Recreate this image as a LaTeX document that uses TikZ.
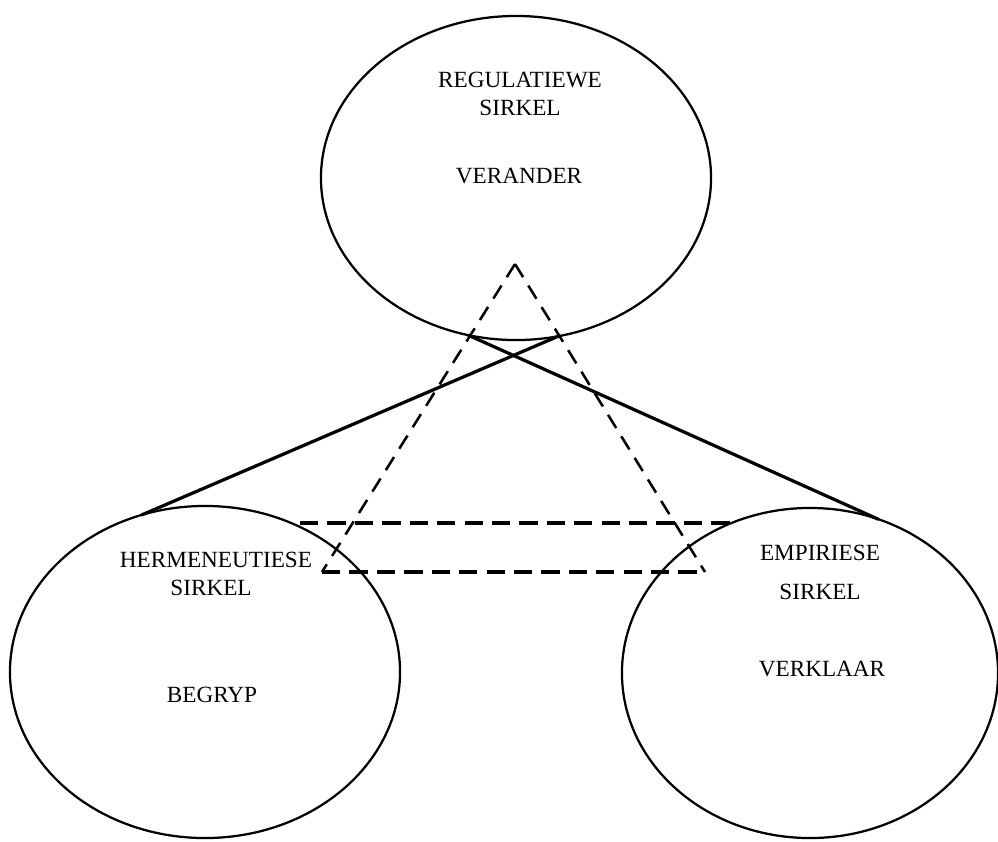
\documentclass[tikz,border=0pt]{standalone}
\usepackage{fontspec}
\setmainfont{Liberation Serif}
\usetikzlibrary{shapes.geometric}
\begin{document}
\begin{tikzpicture}[x=0.025cm, y=-0.025cm,
  circ/.style={ellipse, draw, line width=1.6pt, inner sep=0pt, outer sep=0pt},
  label/.style={font=\fontsize{16.5}{18}\selectfont, inner sep=0pt, align=center},
  link/.style={line width=2.3pt},
  leg/.style={line width=1.8pt, dash pattern=on 11pt off 7pt},
  bar/.style={line width=2.9pt, dash pattern=on 13pt off 6.5pt}]
  \useasboundingbox (0,0) rectangle (998,841);

  % the three circles
  \node[circ, minimum width=9.75cm, minimum height=8.1cm] (reg) at (516,178) {};
  \node[circ, minimum width=9.75cm, minimum height=8.3cm] (her) at (205,672) {};
  \node[circ, minimum width=9.4cm, minimum height=8.25cm] (emp) at (810,673) {};

  % labels
  \node[label] (regname) at (520,80) {REGULATIEWE};
  \node[label] (regsub) at (520,108) {SIRKEL};
  \node[label] (regverb) at (519,176) {VERANDER};
  \node[label] (hername) at (216,560) {HERMENEUTIESE};
  \node[label] (hersub) at (211,588) {SIRKEL};
  \node[label] (herverb) at (212,695) {BEGRYP};
  \node[label] (empname) at (820,553) {EMPIRIESE};
  \node[label] (empsub) at (820,592) {SIRKEL};
  \node[label] (empverb) at (822,669) {VERKLAAR};

  % crossed tangent links between the circles
  \draw[link] (her.112.5) -- (reg.285.4);
  \draw[link] (reg.253.9) -- (emp.66);

  % dashed triangle and horizontal band
  \coordinate (apex) at (515,264);
  \coordinate (bl) at (322,572);
  \coordinate (br) at (705,572);
  \coordinate (ul) at (300,523);
  \coordinate (ur) at (738,523);
  \draw[leg] (apex) -- (bl);
  \draw[leg] (apex) -- (br);
  \draw[bar] (bl) -- (br);
  \draw[bar] (ul) -- (ur);
\end{tikzpicture}
\end{document}
